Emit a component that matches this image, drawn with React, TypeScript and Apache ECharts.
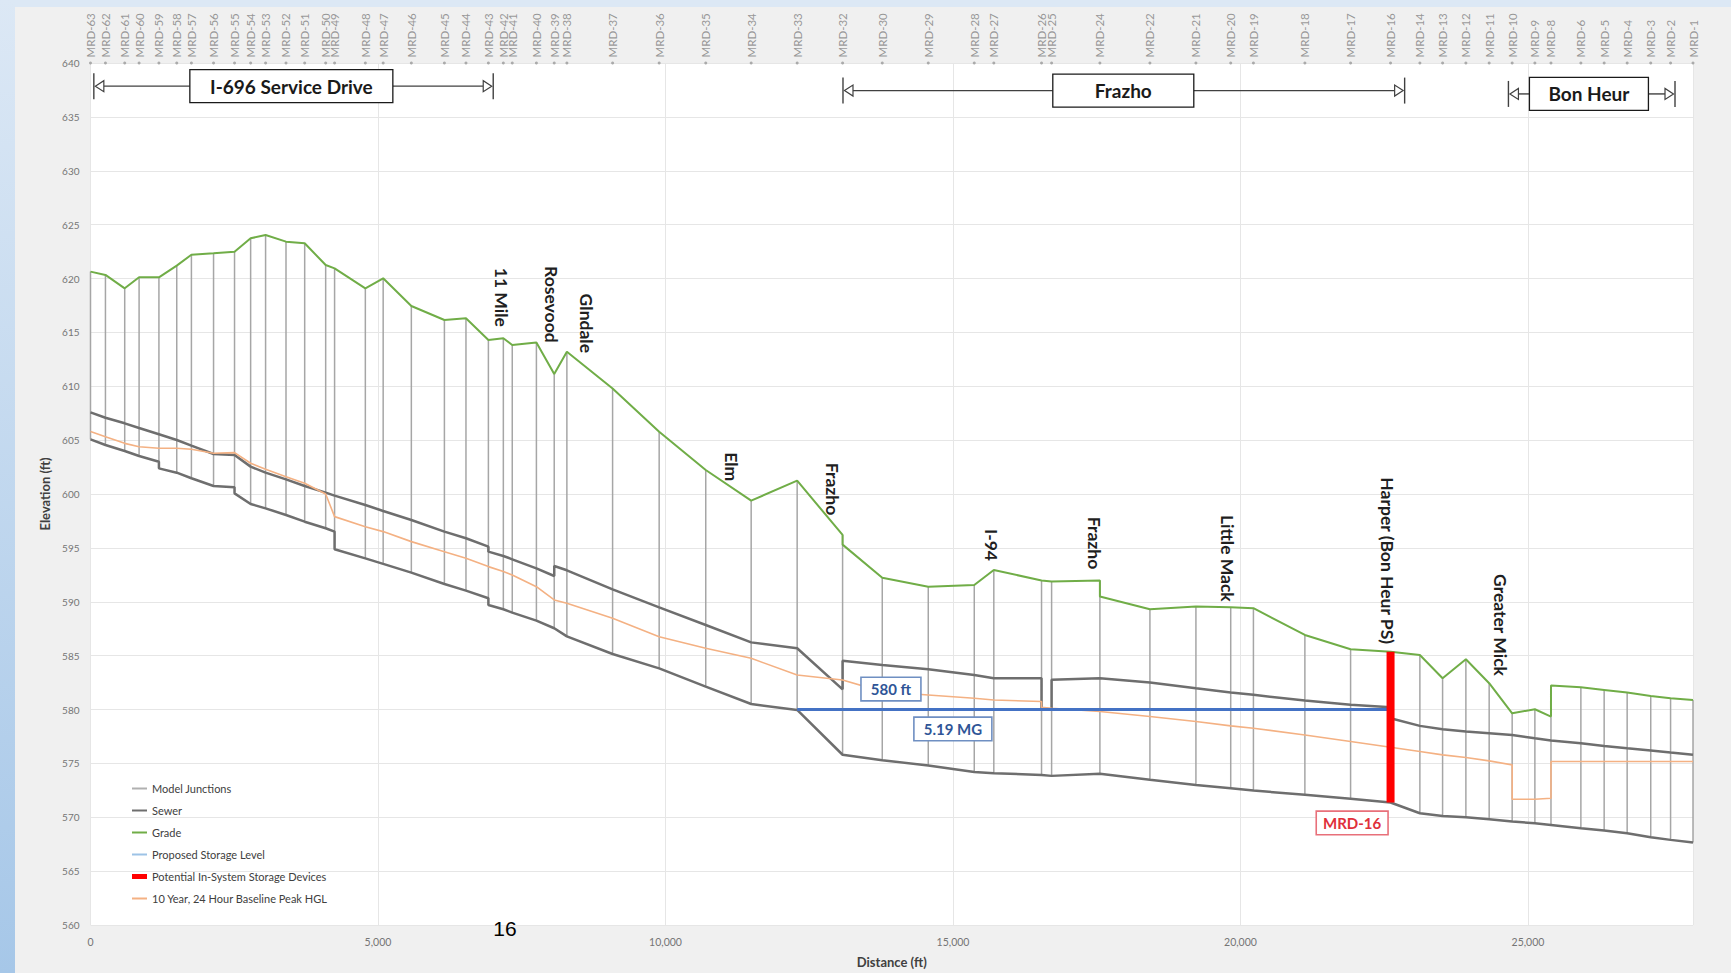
import React, { useEffect, useRef } from "react";
import * as echarts from "echarts";

const FONT = 'Lato, "Open Sans", "Noto Sans", sans-serif';

// ---------------- DATA ----------------
const nodeNames = [
  "MRD-63", "MRD-62", "MRD-61", "MRD-60", "MRD-59", "MRD-58", "MRD-57", "MRD-56", "MRD-55", "MRD-54",
  "MRD-53", "MRD-52", "MRD-51", "MRD-50", "MRD-49", "MRD-48", "MRD-47", "MRD-46", "MRD-45", "MRD-44",
  "MRD-43", "MRD-42", "MRD-41", "MRD-40", "MRD-39", "MRD-38", "MRD-37", "MRD-36", "MRD-35", "MRD-34",
  "MRD-33", "MRD-32", "MRD-30", "MRD-29", "MRD-28", "MRD-27", "MRD-26", "MRD-25", "MRD-24", "MRD-22",
  "MRD-21", "MRD-20", "MRD-19", "MRD-18", "MRD-17", "MRD-16", "MRD-14", "MRD-13", "MRD-12", "MRD-11",
  "MRD-10", "MRD-9", "MRD-8", "MRD-6", "MRD-5", "MRD-4", "MRD-3", "MRD-2", "MRD-1",
];

// distance along the profile (ft)
const nodeDist = [
  0, 260, 595, 845, 1190, 1500, 1755, 2140, 2505, 2785,
  3045, 3400, 3725, 4090, 4245, 4780, 5090, 5580, 6155, 6530,
  6920, 7180, 7335, 7755, 8065, 8285, 9080, 9890, 10700, 11490,
  12290, 13080, 13770, 14570, 15370, 15710, 16540, 16715, 17555, 18425,
  19225, 19830, 20225, 21120, 21915, 22610, 23120, 23515, 23920, 24325,
  24725, 25120, 25400, 25920, 26325, 26725, 27135, 27480, 27870,
];

// ground elevation (ft)
const gradeElev = [
  620.64, 620.33, 619.09, 620.11, 620.11, 621.2, 622.2, 622.34, 622.49, 623.73,
  624.04, 623.42, 623.27, 621.25, 620.94, 619.09, 620.02, 617.45, 616.15, 616.31,
  614.3, 614.45, 613.83, 614.05, 611.14, 613.21, 609.8, 605.78, 602.23, 599.38,
  601.24, 596.2, 592.23, 591.4, 591.55, 592.95, 591.97, 591.87, 591.97, 589.3,
  589.55, 589.49, 589.4, 586.92, 585.59, 585.37, 585.06, 582.9, 584.66, 582.44,
  579.65, 580.02, 579.34, 582.06, 581.82, 581.57, 581.26, 581.04, 580.89,
];

// sewer crown (ft)
const crownElev = [
  607.58, 607.08, 606.56, 606.13, 605.54, 605.01, 604.49, 603.71, 603.62, 602.54,
  601.98, 601.36, 600.74, 600.13, 599.85, 598.98, 598.42, 597.59, 596.51, 595.89,
  595.11, 594.25, 593.94, 593.1, 592.39, 592.92, 591.15, 589.48, 587.84, 586.23,
  585.68, 581.87, 584.13, 583.73, 583.2, 582.9, 582.9, 580.0, 582.9, 582.5,
  581.97, 581.57, 581.36, 580.83, 580.43, 580.21, 578.48, 578.17, 577.95, 577.8,
  577.64, 577.33, 577.12, 576.87, 576.62, 576.4, 576.19, 576.0, 575.79,
];

// sewer invert (ft)
const invertElev = [
  605.07, 604.55, 603.99, 603.53, 603.0, 601.98, 601.46, 600.74, 600.62, 599.07,
  598.67, 598.05, 597.43, 596.82, 596.51, 594.03, 593.51, 592.7, 591.65, 591.03,
  590.32, 589.3, 588.99, 588.25, 587.54, 586.79, 585.15, 583.82, 582.12, 580.51,
  579.96, 575.8, 575.3, 574.8, 574.2, 574.09, 573.93, 573.84, 574.03, 573.47,
  573.0, 572.7, 572.48, 572.08, 571.71, 571.37, 570.37, 570.12, 570.0, 569.82,
  569.6, 569.44, 569.29, 568.98, 568.76, 568.52, 568.15, 567.9, 567.65,
];

// 10 year, 24 hour baseline peak HGL (ft)
const hglElev = [
  605.79, 605.32, 604.7, 604.39, 604.24, 604.24, 604.15, 603.78, 603.84, 602.85,
  602.29, 601.61, 600.99, 600.0, 597.9, 596.97, 596.51, 595.58, 594.65, 594.03,
  593.26, 592.8, 592.49, 591.4, 590.17, 589.86, 588.46, 586.76, 585.68, 584.75,
  583.2, 582.74, 581.66, 581.35, 581.04, 580.88, 580.74, 580.12, 579.81, 579.35,
  578.88, 578.48, 578.26, 577.64, 577.03, 576.5, 576.1, 575.79, 575.54, 575.23,
  574.86, 571.67, 571.76, 575.17, 575.17, 575.17, 575.17, 575.17, 575.17,
];

// second elevation at the same node (vertical steps)
const gradeSteps: [string, number][] = [["MRD-32", 595.3], ["MRD-24", 590.48], ["MRD-8", 582.22]];
const crownSteps: [string, number][] = [
  ["MRD-43", 594.65], ["MRD-39", 593.32], ["MRD-32", 584.53],
  ["MRD-26", 580.1], ["MRD-25", 582.75], ["MRD-16", 579.19],
];
const invertSteps: [string, number][] = [["MRD-59", 602.38], ["MRD-55", 600.06], ["MRD-49", 594.87], ["MRD-43", 589.7]];
const hglSteps: [string, number][] = [["MRD-26", 580.2], ["MRD-10", 571.67], ["MRD-8", 575.17]];

const storageLevel = 580;
const storageFrom = "MRD-33";
const storageTo = "MRD-16";
const storageDevice = "MRD-16";

const xMax = 27870;
const yMin = 560;
const yMax = 640;

// street names: [text, distance, elevation]
const streetLabels: [string, number, number][] = [
  ["11 Mile", 7146, 618.25],
  ["Rosevood", 8015, 617.6],
  ["Glndale", 8624, 615.84],
  ["Elm", 11143, 602.53],
  ["Frazho", 12910, 600.46],
  ["I-94", 15662, 595.27],
  ["Frazho", 17458, 595.45],
  ["Little Mack", 19775, 594.03],
  ["Harper (Bon Heur PS)", 22555, 593.81],
  ["Greater Mick", 24525, 587.84],
];

// road sections: [name, from, to, centre of box, elevation]
const sections: [string, number, number, number, number][] = [
  ["I-696 Service Drive", 58, 7004, 3493, 637.85],
  ["Frazho", 13087, 22855, 17962, 637.44],
  ["Bon Heur", 24660, 27557, 26060, 637.13],
];
const sectionBoxW = [203, 141, 119];

// ---------------- HELPERS ----------------
const idx = (n: string) => nodeNames.indexOf(n);

function profile(vals: number[], steps: [string, number][]) {
  const out: number[][] = [];
  nodeNames.forEach((n, i) => {
    out.push([nodeDist[i], vals[i]]);
    const s = steps.find((st) => st[0] === n);
    if (s) out.push([nodeDist[i], s[1]]);
  });
  return out;
}

const fmt = (v: number) => v.toLocaleString("en-US");

function buildOption(): any {
  const legendText = { color: "#404040", fontSize: 11, fontFamily: FONT, lineHeight: 14 };
  const legendBase = {
    orient: "vertical",
    left: 127,
    itemWidth: 15,
    itemGap: 8,
    icon: "rect",
    textStyle: legendText,
    selectedMode: false,
  };
  const legendTop = 776.5;
  return {
    animation: false,
    backgroundColor: "transparent",
    textStyle: { fontFamily: FONT },
    grid: {
      left: 90.5,
      right: 38,
      top: 63,
      bottom: 48,
      show: true,
      backgroundColor: "#ffffff",
      borderWidth: 0,
      containLabel: false,
    },
    xAxis: {
      type: "value",
      min: 0,
      max: xMax,
      interval: 5000,
      name: "Distance (ft)",
      nameLocation: "middle",
      nameGap: 30,
      nameTextStyle: { fontFamily: FONT, fontWeight: "bold", fontSize: 13, color: "#404040" },
      axisLine: { show: false },
      axisTick: { show: false },
      axisLabel: {
        color: "#757575",
        fontSize: 10.5,
        fontFamily: FONT,
        margin: 11,
        showMaxLabel: false,
        formatter: (v: number) => (v % 5000 === 0 ? fmt(v) : ""),
      },
      splitLine: { show: true, lineStyle: { color: "#e6e6e6", width: 1 } },
    },
    yAxis: {
      type: "value",
      min: yMin,
      max: yMax,
      interval: 5,
      name: "Elevation (ft)",
      nameLocation: "middle",
      nameGap: 31,
      nameTextStyle: { fontFamily: FONT, fontWeight: "bold", fontSize: 13, color: "#404040" },
      axisLine: { show: false },
      axisTick: { show: false },
      axisLabel: { color: "#757575", fontSize: 10, fontFamily: FONT, margin: 11 },
      splitLine: { show: true, lineStyle: { color: "#e6e6e6", width: 1 } },
    },
    legend: [
      {
        ...legendBase,
        top: legendTop,
        itemHeight: 2,
        data: [
          { name: "Model Junctions", itemStyle: { color: "#b0b0b0" } },
          { name: "Sewer" },
          { name: "Grade" },
          { name: "Proposed Storage Level", itemStyle: { color: "#9dc3e6" } },
        ],
      },
      {
        ...legendBase,
        top: legendTop + 4 * 22,
        itemHeight: 5,
        data: [{ name: "Potential In-System Storage Devices" }],
      },
      {
        ...legendBase,
        top: legendTop + 5 * 22,
        itemHeight: 2,
        data: [{ name: "10 Year, 24 Hour Baseline Peak HGL" }],
      },
    ],
    series: [
      {
        name: "Model Junctions",
        type: "custom",
        z: 1,
        itemStyle: { color: "#a6a6a6" },
        data: nodeNames.map((n, i) => [nodeDist[i], gradeElev[i], invertElev[i]]),
        encode: { x: 0, y: [1, 2] },
        renderItem: (params: any, api: any) => {
          const top = api.coord([api.value(0), api.value(1)]);
          const bot = api.coord([api.value(0), api.value(2)]);
          return {
            type: "line",
            shape: { x1: top[0], y1: top[1], x2: bot[0], y2: bot[1] },
            style: { stroke: "#a6a6a6", lineWidth: 1.5 },
          };
        },
      },
      {
        name: "Sewer",
        type: "line",
        z: 3,
        symbol: "none",
        color: "#6e6e6e",
        lineStyle: { color: "#6e6e6e", width: 2.5 },
        data: profile(crownElev, crownSteps),
      },
      {
        name: "Sewer",
        type: "line",
        z: 3,
        symbol: "none",
        color: "#6e6e6e",
        lineStyle: { color: "#6e6e6e", width: 2.5 },
        data: profile(invertElev, invertSteps),
      },
      {
        name: "10 Year, 24 Hour Baseline Peak HGL",
        type: "line",
        z: 4,
        symbol: "none",
        color: "#f4b183",
        lineStyle: { color: "#f4b183", width: 1.6 },
        data: profile(hglElev, hglSteps),
      },
      {
        name: "Grade",
        type: "line",
        z: 5,
        symbol: "none",
        color: "#70ad47",
        lineStyle: { color: "#70ad47", width: 2 },
        data: profile(gradeElev, gradeSteps),
      },
      {
        name: "Proposed Storage Level",
        type: "line",
        z: 6,
        symbol: "none",
        color: "#4472c4",
        lineStyle: { color: "#4472c4", width: 3 },
        data: [
          [nodeDist[idx(storageFrom)], storageLevel],
          [nodeDist[idx(storageTo)], storageLevel],
        ],
      },
      {
        name: "Potential In-System Storage Devices",
        type: "line",
        z: 7,
        symbol: "none",
        color: "#ff0000",
        lineStyle: { color: "#ff0000", width: 8, cap: "butt" },
        data: [
          [nodeDist[idx(storageDevice)], invertElev[idx(storageDevice)]],
          [nodeDist[idx(storageDevice)], gradeElev[idx(storageDevice)]],
        ],
      },
      {
        name: "nodes",
        type: "scatter",
        z: 8,
        clip: false,
        symbolSize: 3,
        itemStyle: { color: "#9a9a9a" },
        data: nodeNames.map((n, i) => ({ name: n, value: [nodeDist[i], yMax] })),
        label: {
          show: true,
          formatter: "{b}",
          position: "top",
          rotate: 90,
          align: "left",
          verticalAlign: "middle",
          distance: 4,
          color: "#7f7f7f",
          fontSize: 11.5,
          fontFamily: FONT,
        },
      },
    ],
  };
}

function buildGraphic(chart: any) {
  const px = (d: number, v: number) => chart.convertToPixel({ gridIndex: 0 }, [d, v]) as number[];
  const g: any[] = [];
  const dark = "#404040";

  sections.forEach((s, i) => {
    const [name, from, to, centre, at] = s;
    const [x0, y] = px(from, at);
    const [x1] = px(to, at);
    const [xc] = px(centre, at);
    const bw = sectionBoxW[i];
    const bh = 33;
    const th = 13;
    const lineStyle = { stroke: dark, lineWidth: 1.4 };
    g.push({ type: "line", z: 100, shape: { x1: x0, y1: y - th, x2: x0, y2: y + th }, style: lineStyle });
    g.push({ type: "line", z: 100, shape: { x1: x1, y1: y - th, x2: x1, y2: y + th }, style: lineStyle });
    g.push({ type: "line", z: 100, shape: { x1: x0 + 10, y1: y, x2: xc - bw / 2, y2: y }, style: lineStyle });
    g.push({ type: "line", z: 100, shape: { x1: xc + bw / 2, y1: y, x2: x1 - 10, y2: y }, style: lineStyle });
    g.push({
      type: "polygon", z: 100,
      shape: { points: [[x0 + 1.5, y], [x0 + 10, y - 5.5], [x0 + 10, y + 5.5]] },
      style: { fill: "#ffffff", stroke: dark, lineWidth: 1.2 },
    });
    g.push({
      type: "polygon", z: 100,
      shape: { points: [[x1 - 1.5, y], [x1 - 10, y - 5.5], [x1 - 10, y + 5.5]] },
      style: { fill: "#ffffff", stroke: dark, lineWidth: 1.2 },
    });
    g.push({
      type: "rect", z: 100,
      shape: { x: xc - bw / 2, y: y - bh / 2, width: bw, height: bh },
      style: { fill: "#ffffff", stroke: "#1a1a1a", lineWidth: 1.3 },
    });
    g.push({
      type: "text", z: 101, x: xc, y: y,
      style: { text: name, font: `bold 19px ${FONT}`, fill: "#1a1a1a", align: "center", verticalAlign: "middle" },
    });
  });

  streetLabels.forEach(([t, d, v]) => {
    const [x, y] = px(d, v);
    g.push({
      type: "text", z: 100, x, y, rotation: -Math.PI / 2,
      style: { text: t, font: `bold 17.5px ${FONT}`, fill: "#1f1f1f", align: "center", verticalAlign: "middle" },
    });
  });

  const boxed = (t: string, d: number, v: number, color: string, border: string, pad: number[]) => {
    const [x, y] = px(d, v);
    g.push({
      type: "text", z: 110, x, y,
      style: {
        text: t, font: `bold 15px ${FONT}`, fill: color, align: "center", verticalAlign: "middle",
        backgroundColor: "#ffffff", borderColor: border, borderWidth: 1.6, padding: pad,
      },
    });
  };
  boxed(`${storageLevel} ft`, 13921, 581.9, "#2f5597", "#6f8fc2", [4, 9, 3, 9]);
  boxed("5.19 MG", 14998, 578.2, "#2f5597", "#6f8fc2", [4, 9, 3, 9]);
  boxed(storageDevice, 21942, 569.47, "#e0303a", "#e8707a", [4, 6, 3, 6]);

  g.push({
    type: "text", z: 120, x: 505, y: 928,
    style: { text: "16", font: '21px "Liberation Sans", Arial, sans-serif', fill: "#000000", align: "center", verticalAlign: "middle" },
  });
  return g;
}

export default function App() {
  const ref = useRef<HTMLDivElement>(null);
  useEffect(() => {
    document.body.style.margin = "0";
    const chart = echarts.init(ref.current as HTMLDivElement, null, { renderer: "svg" });
    chart.setOption(buildOption());
    chart.setOption({ graphic: buildGraphic(chart) });
    return () => chart.dispose();
  }, []);
  return (
    <div style={{ position: "relative", width: 1731, height: 973, background: "#f0f0f0", overflow: "hidden" }}>
      <div style={{ position: "absolute", left: 0, top: 0, width: 1731, height: 7, background: "#dce8f5" }} />
      <div
        style={{
          position: "absolute", left: 0, top: 0, width: 15, height: 973,
          background: "linear-gradient(#dce8f5, #a6c7e8)",
        }}
      />
      <div ref={ref} style={{ position: "absolute", left: 0, top: 0, width: 1731, height: 973 }} />
    </div>
  );
}
